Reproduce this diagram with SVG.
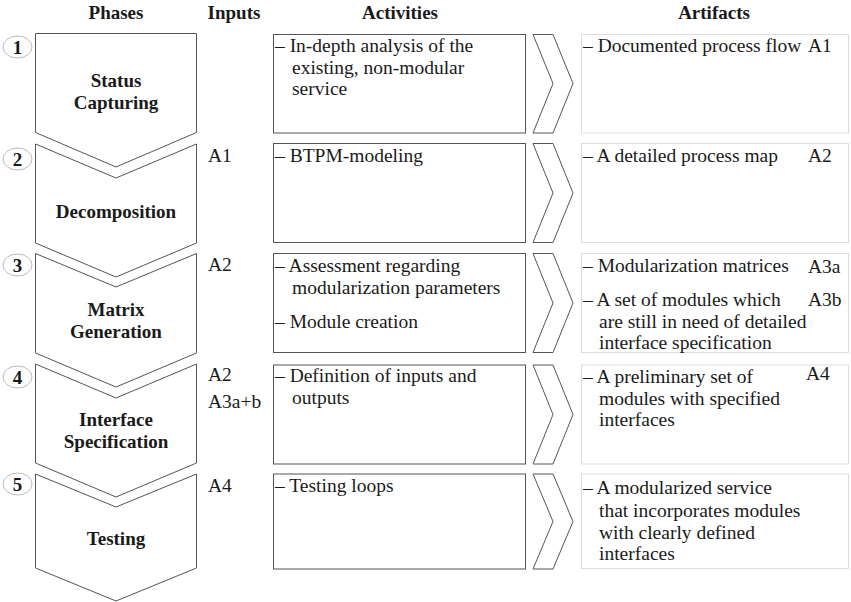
<svg xmlns="http://www.w3.org/2000/svg" width="851" height="602" viewBox="0 0 851 602">
<style>
text{font-family:"Liberation Serif","Times New Roman",serif;font-size:19.5px;fill:#1a1a1a}
.h{font-weight:bold;text-anchor:middle;font-size:19px}
.ph{font-weight:bold;text-anchor:middle;font-size:19px}
.num{font-weight:bold;text-anchor:middle;font-size:19px}
.chev{fill:#fff;stroke:#555;stroke-width:1}
.circ{fill:#fff;stroke:#bbb;stroke-width:1}
.act{fill:#fff;stroke:#555;stroke-width:1}
.art{fill:#fff;stroke:#ddd;stroke-width:1}
.arr{fill:#fff;stroke:#555;stroke-width:1}
</style>
<rect width="851" height="602" fill="#fff"/>
<g id="headers">
<text class="h" x="116" y="19">Phases</text>
<text class="h" x="234" y="19">Inputs</text>
<text class="h" x="400" y="19">Activities</text>
<text class="h" x="714" y="19">Artifacts</text>
</g>
<g id="phase1">
<polygon class="chev" points="35.5,33.5 196.5,33.5 196.5,132.5 116,167 35.5,132.5"/>
<ellipse class="circ" cx="17.5" cy="47" rx="14.5" ry="11"/>
<text class="num" x="17.5" y="54">1</text>
<text class="ph" x="116" y="87">Status</text>
<text class="ph" x="116" y="109">Capturing</text>
</g>
<g id="phase2">
<polygon class="chev" points="35.5,144 116,178 196.5,144 196.5,243 116,277 35.5,243"/>
<ellipse class="circ" cx="17.5" cy="159" rx="14.5" ry="11"/>
<text class="num" x="17.5" y="166">2</text>
<text class="ph" x="116" y="218">Decomposition</text>
</g>
<g id="phase3">
<polygon class="chev" points="35.5,253.5 116,287 196.5,253.5 196.5,353 116,387 35.5,353"/>
<ellipse class="circ" cx="17.5" cy="265" rx="14.5" ry="11"/>
<text class="num" x="17.5" y="272">3</text>
<text class="ph" x="116" y="316">Matrix</text>
<text class="ph" x="116" y="338">Generation</text>
</g>
<g id="phase4">
<polygon class="chev" points="35.5,364 116,398 196.5,364 196.5,463 116,497 35.5,463"/>
<ellipse class="circ" cx="17.5" cy="377" rx="14.5" ry="11"/>
<text class="num" x="17.5" y="384">4</text>
<text class="ph" x="116" y="426">Interface</text>
<text class="ph" x="116" y="448">Specification</text>
</g>
<g id="phase5">
<polygon class="chev" points="35.5,474 116,507 196.5,474 196.5,568 116,601 35.5,568"/>
<ellipse class="circ" cx="17.5" cy="484" rx="14.5" ry="11"/>
<text class="num" x="17.5" y="491">5</text>
<text class="ph" x="116" y="545">Testing</text>
</g>
<g id="inputs">
<text x="208" y="162">A1</text>
<text x="208" y="271">A2</text>
<text x="208" y="381">A2</text>
<text x="208" y="408">A3a+b</text>
<text x="208" y="492">A4</text>
</g>
<g id="activity1">
<rect class="act" x="273.5" y="34.5" width="252" height="98.5"/>
<text x="275" y="52">– In-depth analysis of the</text>
<text x="292" y="73.5">existing, non-modular</text>
<text x="292" y="95">service</text>
</g>
<g id="activity2">
<rect class="act" x="273.5" y="143.5" width="252" height="99"/>
<text x="275" y="162">– BTPM-modeling</text>
</g>
<g id="activity3">
<rect class="act" x="273.5" y="253.5" width="252" height="99"/>
<text x="275" y="272">– Assessment regarding</text>
<text x="292" y="293.5">modularization parameters</text>
<text x="275" y="328">– Module creation</text>
</g>
<g id="activity4">
<rect class="act" x="273.5" y="365" width="252" height="99"/>
<text x="275" y="382">– Definition of inputs and</text>
<text x="292" y="403.5">outputs</text>
</g>
<g id="activity5">
<rect class="act" x="273.5" y="474" width="252" height="95"/>
<text x="275" y="492">– Testing loops</text>
</g>
<g id="connectors">
<polygon class="arr" points="533,34.5 553,34.5 573,83.5 553,133 533,133 553,83.5"/>
<polygon class="arr" points="533,143.5 553,143.5 573,193 553,242.5 533,242.5 553,193"/>
<polygon class="arr" points="533,253.5 553,253.5 573,303 553,352.5 533,352.5 553,303"/>
<polygon class="arr" points="533,365 553,365 573,414.5 553,464 533,464 553,414.5"/>
<polygon class="arr" points="533,474 553,474 573,521.5 553,569 533,569 553,521.5"/>
</g>
<g id="artifact1">
<rect class="art" x="581.5" y="34.5" width="267" height="98.5"/>
<text x="583" y="52">– Documented process flow</text>
<text x="808" y="52">A1</text>
</g>
<g id="artifact2">
<rect class="art" x="581.5" y="143.5" width="267" height="99"/>
<text x="583" y="162">– A detailed process map</text>
<text x="808" y="162">A2</text>
</g>
<g id="artifact3">
<rect class="art" x="581.5" y="253.5" width="267" height="99"/>
<text x="583" y="272">– Modularization matrices</text>
<text x="808" y="273">A3a</text>
<text x="583" y="306">– A set of modules which</text>
<text x="808" y="306">A3b</text>
<text x="599" y="327.5">are still in need of detailed</text>
<text x="599" y="348.5">interface specification</text>
</g>
<g id="artifact4">
<rect class="art" x="581.5" y="365" width="267" height="99"/>
<text x="583" y="383">– A preliminary set of</text>
<text x="806" y="380">A4</text>
<text x="599" y="404.5">modules with specified</text>
<text x="599" y="426">interfaces</text>
</g>
<g id="artifact5">
<rect class="art" x="581.5" y="474" width="267" height="94.5"/>
<text x="583" y="494">– A modularized service</text>
<text x="599" y="516.5">that incorporates modules</text>
<text x="599" y="538.5">with clearly defined</text>
<text x="599" y="560">interfaces</text>
</g>
</svg>
